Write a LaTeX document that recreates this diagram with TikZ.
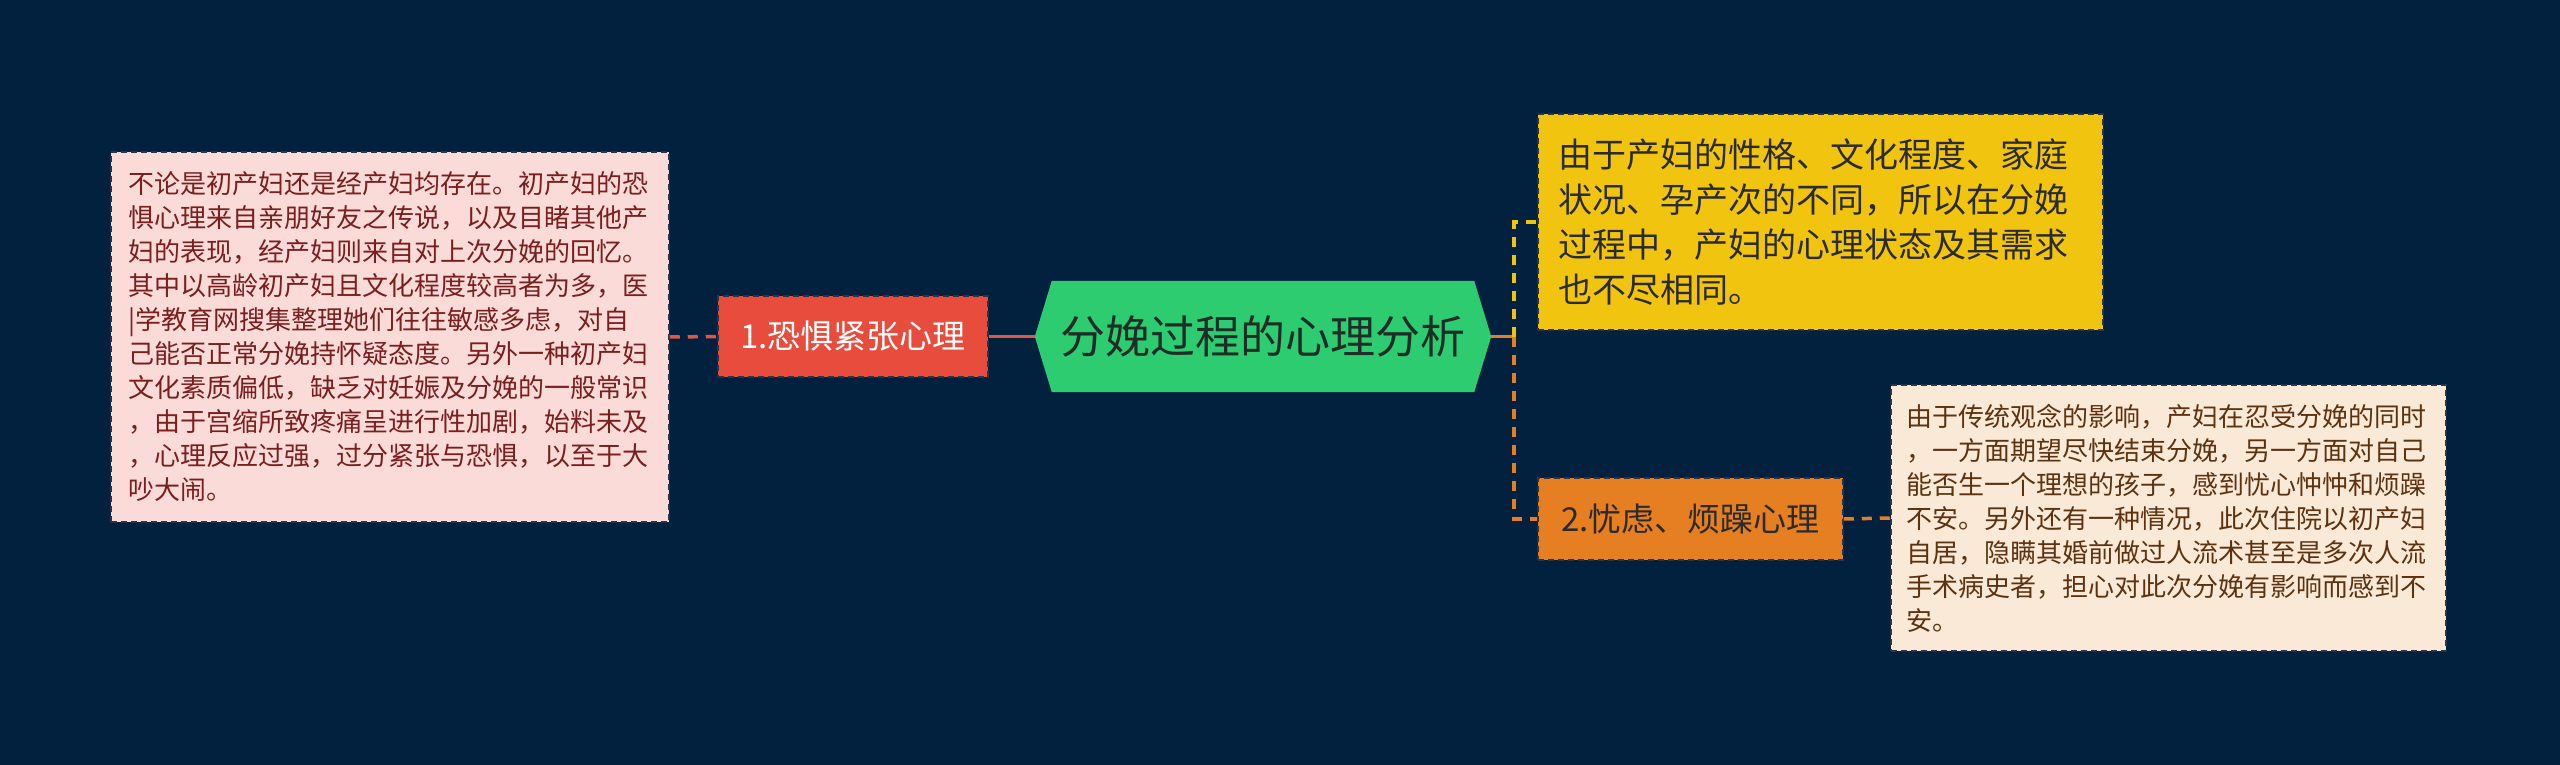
\documentclass[tikz,border=0pt]{standalone}
\usepackage{fontspec}
\newfontfamily\cjk{Noto Sans CJK SC}
\definecolor{bgc}{HTML}{02213F}
\definecolor{pinkfill}{HTML}{FADBD8}
\definecolor{pinktext}{HTML}{7A1F1F}
\definecolor{redfill}{HTML}{E74C3C}
\definecolor{redline}{HTML}{E0574A}
\definecolor{greenfill}{HTML}{2ECC71}
\definecolor{greentext}{HTML}{1E2E26}
\definecolor{yellowfill}{HTML}{F1C40F}
\definecolor{orangefill}{HTML}{E67E22}
\definecolor{peachfill}{HTML}{FBE9D8}
\definecolor{peachtext}{HTML}{5C3311}
\definecolor{darktext}{HTML}{2B2B2B}
\definecolor{boxborder}{HTML}{2A3448}
\tikzset{
  boxstyle/.style={draw=boxborder, dash pattern=on 6pt off 4pt, line width=1.5pt, inner ysep=0pt, align=left},
  smalltext/.style={font={\cjk\fontsize{26}{34}\selectfont}},
  conn/.style={line width=3.5pt},
  cdashed/.style={dash pattern=on 10pt off 8pt},
}
\begin{document}
\begin{tikzpicture}[x=1pt,y=-1pt]
\useasboundingbox (0,0) rectangle (2560,765);
\fill[bgc] (0,0) rectangle (2560,765);

% left detail box
\node[boxstyle, smalltext, fill=pinkfill, text=pinktext, text width=524pt, inner xsep=17pt, minimum height=370pt] (leftbox) at (390,337)
{\noindent 不论是初产妇还是经产妇均存在。初产妇的恐\\惧心理来自亲朋好友之传说，以及目睹其他产\\妇的表现，经产妇则来自对上次分娩的回忆。\\其中以高龄初产妇且文化程度较高者为多，医\\|学教育网搜集整理她们往往敏感多虑，对自\\己能否正常分娩持怀疑态度。另外一种初产妇\\文化素质偏低，缺乏对妊娠及分娩的一般常识\\，由于宫缩所致疼痛呈进行性加剧，始料未及\\，心理反应过强，过分紧张与恐惧，以至于大\\吵大闹。};

% node 1
\node[draw=boxborder, dash pattern=on 6pt off 4pt, line width=1.5pt, fill=redfill, text=white, font={\cjk\fontsize{33}{40}\selectfont}, minimum width=270pt, minimum height=81pt, inner sep=0pt] (n1) at (853,336.5) {1.恐惧紧张心理};

% root hexagon
\node[minimum width=422pt, minimum height=111pt, inner sep=0pt] (root) at (1263,336.5) {};
\fill[greenfill] (root.north west) -- (root.north east) -- ([xshift=17pt]root.east) -- (root.south east) -- (root.south west) -- ([xshift=-17pt]root.west) -- cycle;
\node[text=greentext, font={\cjk\fontsize{45}{52}\selectfont}, inner sep=0pt] (roottext) at (root) {分娩过程的心理分析};
\coordinate (rootL) at ([xshift=-17pt]root.west);
\coordinate (rootR) at ([xshift=17pt]root.east);
\coordinate (fork) at ([xshift=23pt]rootR);

% yellow box
\node[boxstyle, fill=yellowfill, text=darktext, font={\cjk\fontsize{34}{45}\selectfont}, text width=525pt, inner xsep=20pt, minimum height=216pt] (yellow) at (1820.5,222)
{\noindent 由于产妇的性格、文化程度、家庭\\状况、孕产次的不同，所以在分娩\\过程中，产妇的心理状态及其需求\\也不尽相同。};

% node 2
\node[draw=boxborder, dash pattern=on 6pt off 4pt, line width=1.5pt, fill=orangefill, text=darktext, font={\cjk\fontsize{33}{40}\selectfont}, minimum width=305pt, minimum height=82pt, inner sep=0pt] (n2) at (1690.5,519) {2.忧虑、烦躁心理};

% right detail box
\node[boxstyle, smalltext, fill=peachfill, text=peachtext, text width=524pt, inner xsep=15.5pt, minimum height=266pt] (rightbox) at (2168.5,518)
{\noindent 由于传统观念的影响，产妇在忍受分娩的同时\\，一方面期望尽快结束分娩，另一方面对自己\\能否生一个理想的孩子，感到忧心忡忡和烦躁\\不安。另外还有一种情况，此次住院以初产妇\\自居，隐瞒其婚前做过人流术甚至是多次人流\\手术病史者，担心对此次分娩有影响而感到不\\安。};

% connectors
\draw[conn, redline] (n1.east) -- (rootL);
\draw[conn, redline, cdashed] (leftbox.east) -- (n1.west);
\draw[conn, orangefill] (rootR) -- (fork);
\draw[conn, yellowfill, cdashed] (fork) |- (yellow.west);
\draw[conn, orangefill, cdashed] (fork) |- (n2.west);
\draw[conn, orangefill, cdashed] (n2.east) -- (rightbox.west);
\end{tikzpicture}
\end{document}
